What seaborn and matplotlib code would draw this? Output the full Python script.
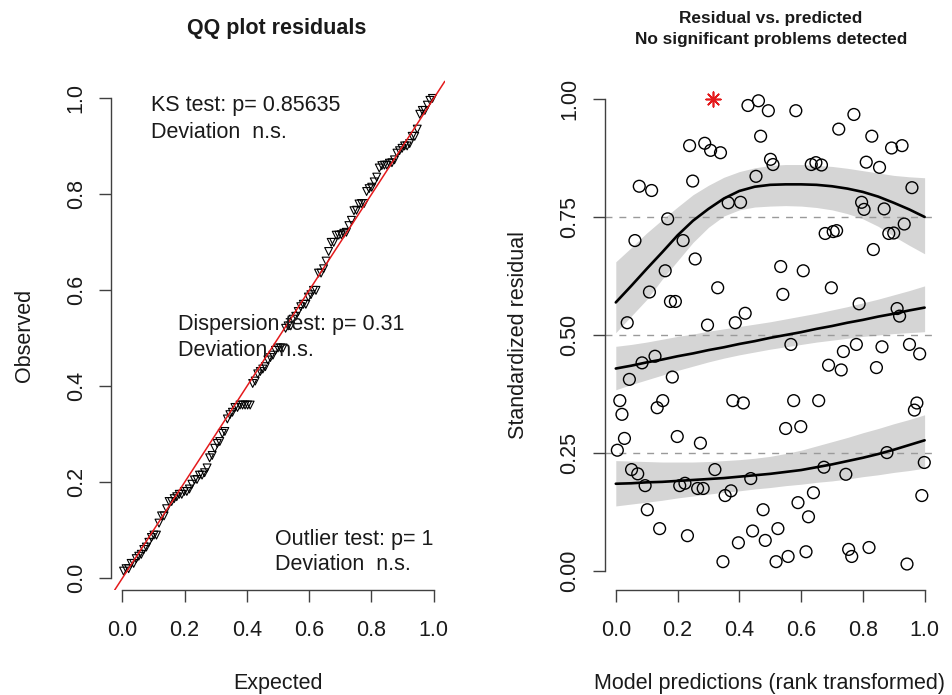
import numpy as np
import pandas as pd
import matplotlib
matplotlib.use("Agg")
import matplotlib.pyplot as plt
import seaborn as sns

# ---------------- data ----------------
pred_rank = [0.428, 0.462, 0.494, 0.583, 0.771, 0.722, 0.469, 0.829, 0.927, 0.893,
             0.239, 0.288, 0.307, 0.339, 0.501, 0.509, 0.633, 0.648, 0.666, 0.811,
             0.854, 0.076, 0.116, 0.249, 0.454, 0.959, 0.364, 0.404, 0.796, 0.804,
             0.869, 0.168, 0.934, 0.678, 0.704, 0.715, 0.884, 0.900, 0.062, 0.218,
             0.834, 0.257, 0.160, 0.534, 0.607, 0.109, 0.330, 0.698, 0.177, 0.193,
             0.541, 0.788, 0.911, 0.919, 0.037, 0.297, 0.387, 0.419, 0.567, 0.737,
             0.779, 0.862, 0.951, 0.984, 0.085, 0.127, 0.689, 0.730, 0.844, 0.044,
             0.183, 0.013, 0.020, 0.134, 0.152, 0.379, 0.413, 0.576, 0.657, 0.975,
             0.967, 0.550, 0.599, 0.028, 0.005, 0.199, 0.274, 0.878, 0.999, 0.051,
             0.071, 0.095, 0.321, 0.437, 0.674, 0.745, 0.207, 0.224, 0.265, 0.283,
             0.354, 0.373, 0.640, 0.590, 0.991, 0.102, 0.477, 0.624, 0.142, 0.232,
             0.443, 0.525, 0.484, 0.397, 0.754, 0.764, 0.820, 0.347, 0.519, 0.558,
             0.616, 0.943]
residual = [0.986, 0.996, 0.975, 0.975, 0.967, 0.936, 0.921, 0.921, 0.901, 0.896,
            0.901, 0.906, 0.891, 0.886, 0.872, 0.861, 0.861, 0.865, 0.860, 0.866,
            0.855, 0.815, 0.806, 0.826, 0.836, 0.812, 0.780, 0.781, 0.781, 0.766,
            0.767, 0.746, 0.735, 0.715, 0.719, 0.721, 0.715, 0.716, 0.700, 0.700,
            0.681, 0.661, 0.636, 0.645, 0.636, 0.591, 0.600, 0.600, 0.571, 0.571,
            0.586, 0.566, 0.556, 0.540, 0.526, 0.521, 0.526, 0.546, 0.480, 0.465,
            0.480, 0.475, 0.480, 0.460, 0.441, 0.455, 0.436, 0.426, 0.431, 0.406,
            0.411, 0.361, 0.332, 0.346, 0.361, 0.361, 0.356, 0.361, 0.361, 0.356,
            0.341, 0.302, 0.306, 0.281, 0.256, 0.285, 0.271, 0.251, 0.230, 0.215,
            0.206, 0.181, 0.215, 0.196, 0.220, 0.205, 0.181, 0.186, 0.175, 0.175,
            0.160, 0.170, 0.166, 0.145, 0.160, 0.130, 0.130, 0.115, 0.090, 0.075,
            0.085, 0.090, 0.065, 0.060, 0.046, 0.031, 0.050, 0.020, 0.020, 0.031,
            0.041, 0.015]
outlier_rank = [0.314]
outlier_residual = [1.0]

quant_x = [0.00, 0.05, 0.10, 0.15, 0.20, 0.25, 0.30, 0.35, 0.40, 0.45, 0.50,
           0.55, 0.60, 0.65, 0.70, 0.75, 0.80, 0.85, 0.90, 0.95, 1.00]
q25_fit = [0.185, 0.186, 0.188, 0.189, 0.191, 0.193, 0.195, 0.197, 0.200, 0.203, 0.206,
           0.210, 0.214, 0.220, 0.226, 0.233, 0.240, 0.248, 0.257, 0.267, 0.277]
q25_lo = [0.138, 0.142, 0.146, 0.150, 0.155, 0.159, 0.163, 0.167, 0.170, 0.174, 0.177,
          0.181, 0.184, 0.188, 0.191, 0.195, 0.200, 0.204, 0.209, 0.213, 0.218]
q25_hi = [0.234, 0.233, 0.232, 0.231, 0.231, 0.231, 0.232, 0.234, 0.236, 0.239, 0.243,
          0.249, 0.256, 0.265, 0.274, 0.283, 0.293, 0.302, 0.312, 0.321, 0.331]
q50_fit = [0.429, 0.435, 0.442, 0.448, 0.455, 0.461, 0.468, 0.474, 0.481, 0.487, 0.494,
           0.500, 0.506, 0.513, 0.519, 0.526, 0.532, 0.539, 0.545, 0.552, 0.558]
q50_lo = [0.384, 0.395, 0.405, 0.415, 0.425, 0.434, 0.443, 0.451, 0.458, 0.464, 0.470,
          0.475, 0.480, 0.485, 0.489, 0.493, 0.497, 0.500, 0.503, 0.505, 0.507]
q50_hi = [0.476, 0.480, 0.485, 0.491, 0.497, 0.502, 0.508, 0.513, 0.518, 0.523, 0.528,
          0.534, 0.540, 0.546, 0.553, 0.560, 0.568, 0.576, 0.585, 0.594, 0.604]
q75_fit = [0.569, 0.604, 0.640, 0.675, 0.711, 0.742, 0.767, 0.789, 0.805, 0.814, 0.818,
           0.819, 0.819, 0.818, 0.815, 0.810, 0.803, 0.793, 0.780, 0.766, 0.750]
q75_lo = [0.505, 0.540, 0.575, 0.618, 0.657, 0.696, 0.728, 0.752, 0.765, 0.771, 0.773,
          0.774, 0.773, 0.770, 0.765, 0.757, 0.746, 0.730, 0.709, 0.690, 0.672]
q75_hi = [0.655, 0.685, 0.716, 0.744, 0.771, 0.797, 0.817, 0.834, 0.846, 0.854, 0.859,
          0.861, 0.861, 0.859, 0.857, 0.853, 0.848, 0.843, 0.838, 0.835, 0.833]
ref_quantiles = [0.25, 0.50, 0.75]

qq_ticks = [0.0, 0.2, 0.4, 0.6, 0.8, 1.0]
qq_ticklabels = ["0.0", "0.2", "0.4", "0.6", "0.8", "1.0"]
res_yticks = [0.0, 0.25, 0.5, 0.75, 1.0]
res_yticklabels = ["0.00", "0.25", "0.50", "0.75", "1.00"]

ks_lines = ["KS test: p= 0.85635", "Deviation  n.s."]
disp_lines = ["Dispersion test: p= 0.31", "Deviation  n.s."]
out_lines = ["Outlier test: p= 1", "Deviation  n.s."]

# QQ data derived from the same residuals
all_res = np.sort(np.array(residual + outlier_residual))
n = len(all_res)
expected = (np.arange(1, n + 1) - 0.5) / n
qq_df = pd.DataFrame({"expected": expected, "observed": all_res})
res_df = pd.DataFrame({"pred": pred_rank, "res": residual})

# ---------------- styling ----------------
sns.set_theme(style="white")
plt.rcParams["font.family"] = ["Liberation Sans", "DejaVu Sans"]

W, H = 952, 695
fig = plt.figure(figsize=(W / 100, H / 100), dpi=100)

def ax_rect(x0, x1, ytop, ybot):
    return [x0 / W, 1 - ybot / H, (x1 - x0) / W, (ybot - ytop) / H]

ax1 = fig.add_axes(ax_rect(111.2, 444.8, 80, 590))
ax2 = fig.add_axes(ax_rect(604.8, 935.6, 80, 590))

txt_col = "#1a1a1a"
ax_col = "#404040"
FS = 15.5

for ax in (ax1, ax2):
    for s in ("top", "right"):
        ax.spines[s].set_visible(False)
    for s in ("left", "bottom"):
        ax.spines[s].set_color(ax_col)
        ax.spines[s].set_linewidth(1.0)
    ax.tick_params(axis="both", direction="out", length=8.6, width=1.0,
                   color=ax_col, labelsize=FS, labelcolor=txt_col, left=True, bottom=True)
    ax.tick_params(axis="x", pad=13)
    ax.tick_params(axis="y", pad=9)
    ax.set_facecolor("white")
    ax.grid(False)

# ---- left: QQ plot ----
sns.scatterplot(data=qq_df, x="expected", y="observed", ax=ax1, marker="v", s=32,
                facecolor="none", edgecolor="black", linewidth=0.8, zorder=3)
ax1.axline((0, 0), (1, 1), color="#e41a1c", lw=1.1, zorder=4)
ax1.set_xlim(-0.0356, 1.0356)
ax1.set_ylim(-0.0244, 1.0384)
ax1.set_xticks(qq_ticks)
ax1.set_xticklabels(qq_ticklabels)
ax1.set_yticks(qq_ticks)
ax1.set_yticklabels(qq_ticklabels, rotation=90, va="center")
ax1.spines["left"].set_bounds(0, 1)
ax1.spines["bottom"].set_bounds(0, 1)
ax1.set_xlabel("")
ax1.set_ylabel("")

# ---- right: residual vs predicted ----
for q in ref_quantiles:
    ax2.axhline(q, color="#9a9a9a", lw=1.0, ls=(0, (5, 5)), zorder=1)
for lo, hi in ((q25_lo, q25_hi), (q50_lo, q50_hi), (q75_lo, q75_hi)):
    ax2.fill_between(quant_x, lo, hi, color="#d5d5d5", lw=0, zorder=0.5)
for fit in (q25_fit, q50_fit, q75_fit):
    sns.lineplot(x=quant_x, y=fit, ax=ax2, color="black", lw=1.9, zorder=2)
sns.scatterplot(data=res_df, x="pred", y="res", ax=ax2, marker="o", s=72,
                facecolor="none", edgecolor="black", linewidth=1.0, zorder=3)
sns.scatterplot(x=outlier_rank, y=outlier_residual, ax=ax2, marker=(8, 2, 0), s=110,
                color="#e41a1c", edgecolor="#e41a1c", linewidth=1.2, zorder=4)
ax2.set_xlim(-0.0356, 1.0356)
ax2.set_ylim(-0.04, 1.04)
ax2.set_xticks(qq_ticks)
ax2.set_xticklabels(qq_ticklabels)
ax2.set_yticks(res_yticks)
ax2.set_yticklabels(res_yticklabels, rotation=90, va="center")
ax2.spines["left"].set_bounds(0, 1)
ax2.spines["bottom"].set_bounds(0, 1)
ax2.set_xlabel("")
ax2.set_ylabel("")

# ---- texts ----
def ftext(px, py, s, **kw):
    fig.text(px / W, 1 - py / H, s, **kw)

ftext(277, 28.5, "QQ plot residuals", ha="center", va="center", fontsize=FS,
      fontweight="bold", color=txt_col)
ftext(771, 18.5, "Residual vs. predicted", ha="center", va="center", fontsize=12.4,
      fontweight="bold", color=txt_col)
ftext(771, 39.5, "No significant problems detected", ha="center", va="center",
      fontsize=12.4, fontweight="bold", color=txt_col)

ftext(278, 683, "Expected", ha="center", va="center", fontsize=FS, color=txt_col)
ftext(25, 335, "Observed", ha="center", va="center", rotation=90, fontsize=FS, color=txt_col)
ftext(770, 683, "Model predictions (rank transformed)", ha="center", va="center",
      fontsize=FS, color=txt_col)
ftext(518, 335, "Standardized residual", ha="center", va="center", rotation=90,
      fontsize=FS, color=txt_col)

for (x0, y0), lines in (((151, 106), ks_lines), ((178, 324), disp_lines), ((275, 539), out_lines)):
    for i, s in enumerate(lines):
        ftext(x0, y0 + 26 * i, s, ha="left", va="center", fontsize=FS, color=txt_col)

fig.savefig("out.png", dpi=100, facecolor="white")
